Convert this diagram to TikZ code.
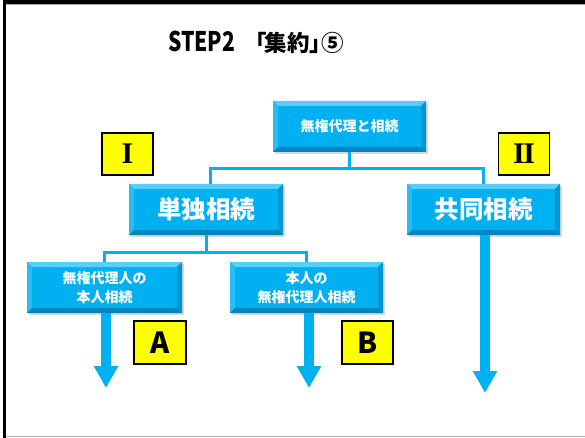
\documentclass[tikz,border=0pt]{standalone}
\usepackage{fontspec}
\usepackage{graphicx}
\setmainfont{Liberation Sans}
\newfontfamily\jp{Noto Sans CJK JP}
\newfontfamily\romfont{Liberation Serif}
\usetikzlibrary{arrows.meta,calc}
\definecolor{cy}{RGB}{0,176,240}
\definecolor{cytop}{RGB}{90,205,248}
\definecolor{cyleft}{RGB}{40,190,244}
\definecolor{cyright}{RGB}{0,150,212}
\definecolor{cybot}{RGB}{0,132,190}
\definecolor{yl}{RGB}{255,255,0}
\tikzset{
  bevbox/.style={minimum width=153pt,minimum height=51pt,inner sep=0pt,fill=cy,
    text=white,align=center,
    path picture={
      \coordinate (nw) at (path picture bounding box.north west);
      \coordinate (ne) at (path picture bounding box.north east);
      \coordinate (sw) at (path picture bounding box.south west);
      \coordinate (se) at (path picture bounding box.south east);
      \fill[cytop] (nw) -- (ne) -- ([shift={(-5pt,-5pt)}]ne) -- ([shift={(5pt,-5pt)}]nw) -- cycle;
      \fill[cyleft] (nw) -- (sw) -- ([shift={(5pt,5pt)}]sw) -- ([shift={(5pt,-5pt)}]nw) -- cycle;
      \fill[cyright] (ne) -- (se) -- ([shift={(-5pt,5pt)}]se) -- ([shift={(-5pt,-5pt)}]ne) -- cycle;
      \fill[cybot] (sw) -- (se) -- ([shift={(-5pt,5pt)}]se) -- ([shift={(5pt,5pt)}]sw) -- cycle;
    }},
  shadowed/.style={preaction={fill=black,opacity=0.15,transform canvas={xshift=1.5pt,yshift=-2pt}}},
  smalltxt/.style={font=\jp\bfseries\fontsize{14}{19}\selectfont},
  bigtxt/.style={font=\jp\bfseries\fontsize{24.5}{28}\selectfont},
  tag/.style={draw=black,line width=1.3pt,fill=yl,minimum width=51pt,minimum height=42pt,inner sep=0pt},
  romtxt/.style={font=\romfont\bfseries\fontsize{30}{30}\selectfont},
  conn/.style={draw=cy,line width=3pt},
  bigarrow/.style={draw=cy,line width=10pt,-{Triangle[width=23pt,length=22pt]}},
}
\begin{document}
\begin{tikzpicture}[x=1pt,y=-1pt]
\useasboundingbox (0,0) rectangle (585,438);
\fill[white] (0,0) rectangle (585,438);
% frame
\draw[black,line width=4pt] (3,2) -- (585,2);
\draw[black!35,line width=1pt] (6,4.5) -- (585,4.5);
\draw[black,line width=3pt] (4.5,0) -- (4.5,438);
\draw[black!30,line width=1.5pt] (6,436.5) -- (585,436.5);
% title
\node[inner sep=0pt,anchor=base west] (title) at (168,52) {\jp\bfseries\scalebox{0.78}[1]{\fontsize{27}{27}\selectfont STEP2}\hspace{9pt}\fontsize{22.5}{22.5}\selectfont 「\kern-2pt 集約」\kern-11pt ⑤};
% boxes
\node[bevbox,shadowed,smalltxt] (top) at (349.5,126.5) {無権代理と相続};
\node[bevbox,shadowed,bigtxt,minimum width=154pt] (tan) at (206,209.5) {単独相続};
\node[bevbox,shadowed,bigtxt] (kyo) at (483.5,209.5) {共同相続};
\node[bevbox,shadowed,smalltxt,minimum width=155pt] (ba) at (104.5,287.5) {無権代理人の\\本人相続};
\node[bevbox,shadowed,smalltxt] (bb) at (306.5,287.5) {本人の\\無権代理人相続};
% tags
\node[tag,romtxt] (t1) at (127.5,154) {I};
\node[tag,romtxt] (t2) at (524,154) {I\kern-1.5pt I};
\node[tag,minimum width=52pt,minimum height=43pt,font=\jp\bfseries\fontsize{29}{29}\selectfont] (ta) at (160,342.5) {A};
\node[tag,minimum width=51pt,minimum height=43pt,font=\jp\bfseries\fontsize{29}{29}\selectfont] (tb) at (367.5,342.5) {B};
% connectors
\draw[conn] (top.south) -- ++(0,16) coordinate (j1);
\draw[conn] (j1) -| ([xshift=4pt]tan.north);
\draw[conn] (j1) -| (kyo.north);
\draw[conn] (tan.south) -- ++(0,17) coordinate (j2);
\draw[conn] (j2) -| (ba.north);
\draw[conn] (j2) -| (bb.north);
% arrows
\coordinate (ea) at (106,388);
\coordinate (eb) at (309,388);
\coordinate (ek) at (485,393);
\draw[bigarrow] ([xshift=1.5pt]ba.south) -- (ea);
\draw[bigarrow] ([xshift=2.5pt]bb.south) -- (eb);
\draw[bigarrow] ([xshift=1.5pt]kyo.south) -- (ek);
\end{tikzpicture}
\end{document}
